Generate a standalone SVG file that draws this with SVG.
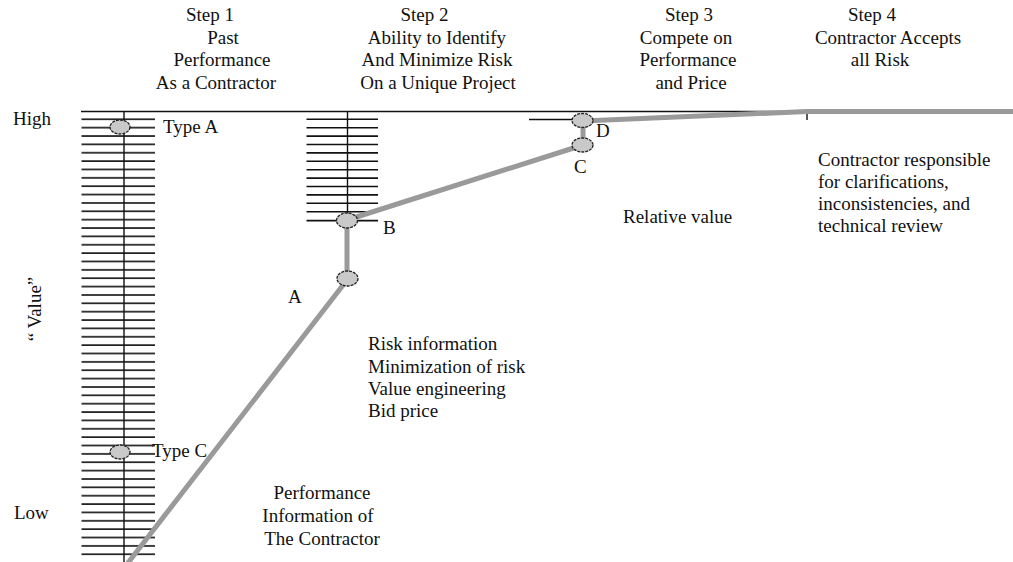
<svg xmlns="http://www.w3.org/2000/svg" width="1013" height="562" viewBox="0 0 1013 562">
<style>
text{font-family:"Liberation Serif","Times New Roman",serif;font-size:19px;fill:#111}
.m{text-anchor:middle}
.rung{stroke:#111;stroke-width:1.6}
.ax{stroke:#111;stroke-width:1.4;fill:none}
.path{stroke:#9a9a9a;stroke-width:5;fill:none;stroke-linejoin:round}
.node{fill:#c9c9c9;stroke:#222;stroke-width:1.3;stroke-dasharray:3 1}
</style>
<defs>
<pattern id="rungs1" x="0" y="118.3" width="80" height="8.365" patternUnits="userSpaceOnUse">
<rect x="0" y="0.2" width="80" height="1.6" fill="#111"/>
</pattern>
</defs>
<rect width="1013" height="562" fill="#fff"/>

<g id="headers">
<text class="m" x="210" y="21">Step 1</text>
<text class="m" x="223" y="43.5">Past</text>
<text class="m" x="222" y="66">Performance</text>
<text class="m" x="216" y="88.5">As a Contractor</text>
<text class="m" x="424.5" y="21">Step 2</text>
<text class="m" x="437" y="43.5">Ability to Identify</text>
<text class="m" x="437" y="66">And Minimize Risk</text>
<text class="m" x="438" y="88.5">On a Unique Project</text>
<text class="m" x="689" y="21">Step 3</text>
<text class="m" x="686" y="43.5">Compete on</text>
<text class="m" x="688" y="66">Performance</text>
<text class="m" x="691" y="88.5">and Price</text>
<text class="m" x="872" y="21">Step 4</text>
<text class="m" x="888" y="43.5">Contractor Accepts</text>
<text class="m" x="880" y="66">all Risk</text>
</g>

<g id="axis">
<text x="13" y="125">High</text>
<text x="14" y="519">Low</text>
<text class="m" transform="translate(41 309) rotate(-90)">“ Value”</text>
<line class="ax" x1="81" y1="111.5" x2="808" y2="111.5"/>
<line class="ax" x1="807" y1="111.5" x2="807" y2="120"/>
</g>

<g id="ladder1">
<rect x="81.5" y="118" width="73.5" height="440" fill="url(#rungs1)"/>
<line class="ax" x1="124" y1="111.5" x2="124" y2="562"/>
</g>

<g id="ladder2">
<g class="rung">
<line x1="306.5" y1="119.3" x2="378" y2="119.3"/>
<line x1="306.5" y1="127.7" x2="378" y2="127.7"/>
<line x1="306.5" y1="136.1" x2="378" y2="136.1"/>
<line x1="306.5" y1="144.5" x2="378" y2="144.5"/>
<line x1="306.5" y1="152.9" x2="378" y2="152.9"/>
<line x1="306.5" y1="161.3" x2="378" y2="161.3"/>
<line x1="306.5" y1="169.7" x2="378" y2="169.7"/>
<line x1="306.5" y1="178.1" x2="378" y2="178.1"/>
<line x1="306.5" y1="186.5" x2="378" y2="186.5"/>
<line x1="306.5" y1="194.9" x2="378" y2="194.9"/>
<line x1="306.5" y1="203.3" x2="378" y2="203.3"/>
<line x1="306.5" y1="211.7" x2="378" y2="211.7"/>
<line x1="306.5" y1="220.6" x2="378" y2="220.6"/>
</g>
<line class="ax" x1="347.5" y1="111.5" x2="347.5" y2="214"/>
<line class="ax" x1="529" y1="119.5" x2="600" y2="119.5"/>
</g>

<g id="connectors">
<polyline class="path" points="124,568 347,280 347,220 583,145 583,121 807,111.5 1013,111.5"/>
</g>

<g id="node-typeA"><ellipse class="node" cx="120" cy="127" rx="10" ry="7"/><text x="163" y="133">Type A</text></g>
<g id="node-typeC"><ellipse class="node" cx="120" cy="452" rx="10" ry="7"/><text x="152" y="457">Type C</text></g>
<g id="node-A"><ellipse class="node" cx="347.5" cy="278.5" rx="10.5" ry="7.5"/><text x="288" y="303">A</text></g>
<g id="node-B"><ellipse class="node" cx="347" cy="220.5" rx="10.5" ry="7.5"/><text x="383" y="234">B</text></g>
<g id="node-C"><ellipse class="node" cx="582.5" cy="145" rx="10.5" ry="7"/><text x="574" y="173">C</text></g>
<g id="node-D"><ellipse class="node" cx="582.5" cy="120.5" rx="10.5" ry="7"/><text x="596" y="137">D</text></g>

<g id="labels">
<text x="368" y="350">Risk information</text>
<text x="368" y="373">Minimization of risk</text>
<text x="368" y="395">Value engineering</text>
<text x="368" y="417">Bid price</text>
<text x="623" y="223">Relative value</text>
<text x="818" y="166">Contractor responsible</text>
<text x="818" y="188">for clarifications,</text>
<text x="818" y="210">inconsistencies, and</text>
<text x="818" y="232">technical review</text>
<text class="m" x="322" y="499">Performance</text>
<text class="m" x="318" y="522">Information of</text>
<text class="m" x="322" y="545">The Contractor</text>
</g>
</svg>
